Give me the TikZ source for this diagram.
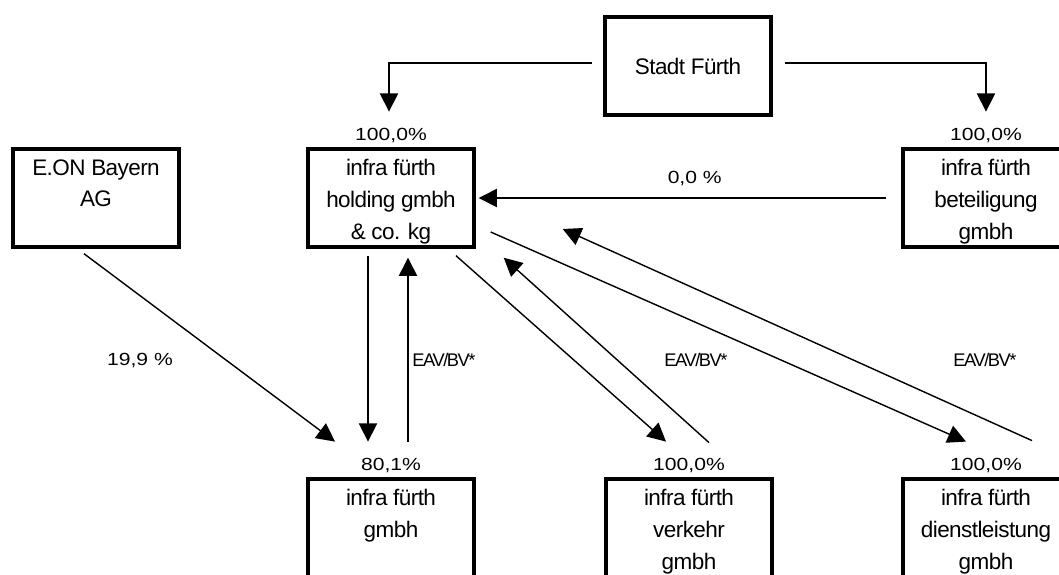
\documentclass[tikz,border=0pt]{standalone}
\usepackage{fontspec}
\setmainfont{Liberation Sans}[LetterSpace=-2.5]
\newfontfamily\pctfont{Liberation Sans}[FakeStretch=1.2]
\newfontfamily\eavfont{Liberation Sans}[LetterSpace=-8]
\usetikzlibrary{arrows.meta,positioning,calc}

\newcommand{\firmlines}[1]{\parbox[c][2.45cm][t]{4.15cm}{\centering\fontsize{16}{22.5}\selectfont\vspace*{7.5pt}#1}}

\begin{document}
\begin{tikzpicture}[x=0.025cm, y=-0.025cm,
		every node/.style={inner sep=1pt},
		firm/.style={draw, line width=2.4pt, fill=white, minimum width=4.15cm, minimum height=2.45cm, inner sep=0pt, font=\fontsize{16}{22}\selectfont},
		pct/.style={font=\pctfont\fontsize{12.5}{15}\selectfont},
		eav/.style={font=\eavfont\fontsize{13}{15}\selectfont},
		arr/.style={line width=1pt, -{Triangle[length=13pt, width=13pt]}}]
	\useasboundingbox (0, 0) rectangle (1059, 574);

	% companies
	\node[firm] (stadt) at (688, 66) {Stadt Fürth};
	\node[firm] (eon) at (96, 198) {\firmlines{E.ON Bayern\\AG}};
	\node[firm] (hold) at (391, 198) {\firmlines{infra fürth\\holding gmbh\\\& co. kg}};
	\node[firm] (bet) at (986, 198) {\firmlines{infra fürth\\beteiligung\\gmbh}};
	\node[firm] (gmbh) at (391, 528) {\firmlines{infra fürth\\gmbh}};
	\node[firm] (verk) at (689, 528) {\firmlines{infra fürth\\verkehr\\gmbh}};
	\node[firm] (dienst) at (986, 528) {\firmlines{infra fürth\\dienstleistung\\gmbh}};

	% shares
	\node[pct, above=2pt of hold] (phold) {100,0\%};
	\node[pct, above=2pt of bet] (pbet) {100,0\%};
	\node[pct, above=2pt of gmbh] (pgmbh) {80,1\%};
	\node[pct, above=2pt of verk] (pverk) {100,0\%};
	\node[pct, above=2pt of dienst] (pdienst) {100,0\%};

	\node[pct] (eonshare) at (140, 360) {19,9 \%};
	\node[eav] (eav1) at (444, 360) {EAV/BV*};
	\node[eav] (eav2) at (696, 360) {EAV/BV*};
	\node[eav] (eav3) at (985, 360) {EAV/BV*};

	% connectors
	\draw[arr] ($(stadt.west)+(-11, -3)$) -| ($(phold.north)+(-2, -15)$);
	\draw[arr] ($(stadt.east)+(12, -3)$) -| ($(pbet.north)+(0, -15)$);
	\draw[arr] ($(bet.west)+(-15, 0)$) -- ($(hold.east)+(3, 0)$)
		node[pct, above=7pt, pos=0.47] (zero) {0,0 \%};
	\draw[arr] ($(hold.south)+(-23, 7)$) -- ($(pgmbh.north)+(-23, -15)$);
	\draw[arr] ($(pgmbh.north)+(17, -15)$) -- ($(hold.south)+(17, 9)$);
	\draw[arr] ($(eon.south)+(-12, 5)$) -- ($(pgmbh.north)+(-56, -15)$);
	\draw[arr] ($(hold.south)+(65, 7)$) -- ($(pverk.north)+(-23, -15)$);
	\draw[arr] ($(pverk.north)+(20, -14)$) -- ($(hold.south east)+(28, 9)$);
	\draw[arr] ($(hold.east)+(15, 34)$) -- ($(pdienst.north)+(-20, -15)$);
	\draw[arr] ($(pdienst.north)+(46, -16)$) -- ($(hold.east)+(87, 31)$);
\end{tikzpicture}
\end{document}
